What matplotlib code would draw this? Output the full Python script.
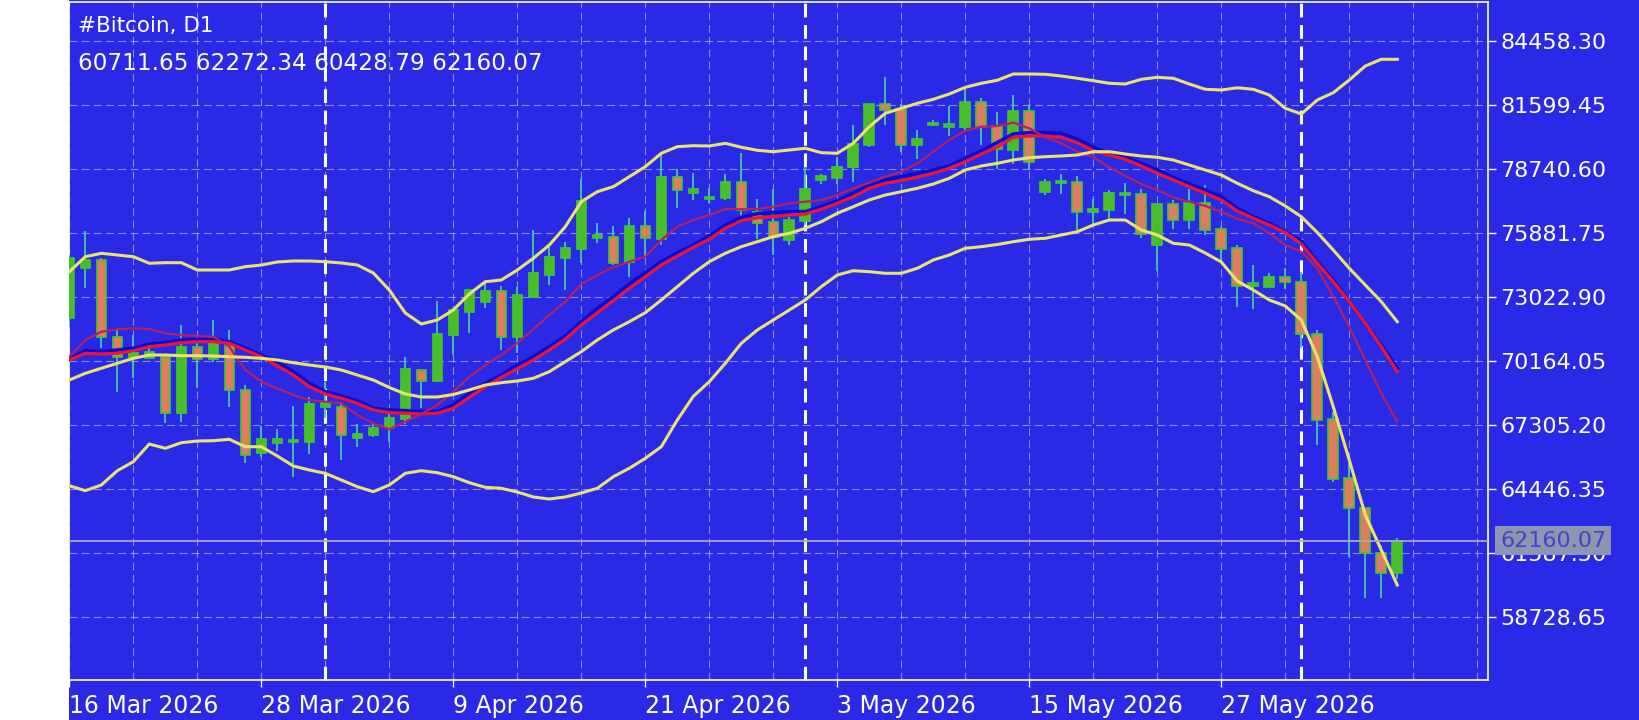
import numpy as np
import pandas as pd
import matplotlib
matplotlib.use("Agg")
import matplotlib.pyplot as plt
from matplotlib.patches import Rectangle
import matplotlib.transforms as mtransforms

# ---------------- data ----------------
symbol_title = "#Bitcoin, D1"
start_date = "2026-03-16"

opens = [72085, 74319, 74691, 71266, 70298, 70298, 70373, 67841, 70819, 70253,
         70968, 68883, 66054, 66531, 66560, 66575, 68139, 68139, 66754, 66873,
         67201, 67573, 69777, 69300, 71340, 72353, 72829, 73321, 71266, 73053,
         74020, 74765, 75167, 75673, 75733, 74616, 76224, 75614, 78413, 77669,
         77430, 77445, 78190, 76835, 76388, 75599, 76418, 78249, 78368, 78845,
         79842, 81644, 81451, 79813, 80706, 80632, 80632, 81748, 80661, 79619,
         81346, 77728, 78130, 78175, 76835, 76939, 77579, 77653, 75346, 77177,
         76492, 77237, 76090, 75241, 73529, 73499, 73946, 73723, 71385, 67573,
         64938, 63598, 61618, 60711.65]
highs = [74913, 76001, 74765, 71564, 71340, 71043, 70492, 71787, 71340, 72010,
         71564, 69107, 67275, 67126, 68169, 68556, 69256, 68362, 67350, 67469,
         67841, 70343, 69807, 72859, 72532, 73380, 73767, 73529, 73499, 76031,
         75256, 75509, 78294, 76358, 76209, 76552, 76879, 79426, 78741, 78562,
         77892, 78532, 79455, 77430, 77877, 76611, 78845, 78547, 79292, 80736,
         81674, 82865, 81674, 80483, 80929, 81555, 82344, 81942, 81302, 82046,
         81599, 78324, 78547, 78428, 77430, 77832, 78130, 77877, 77177, 77385,
         77877, 78026, 76165, 75350, 74467, 74124, 74318, 74169, 71564, 67916,
         65607, 63642, 61960, 62272.34]
lows = [71713, 73425, 70745, 68809, 69405, 70253, 67394, 67469, 68958, 70149,
        68139, 65608, 65905, 66173, 65012, 66010, 67618, 65756, 66323, 66799,
        66575, 67365, 68065, 69300, 70447, 71445, 72561, 70670, 70521, 73053,
        73574, 73350, 74541, 75465, 74467, 73946, 74839, 75360, 77001, 77371,
        77222, 77371, 76596, 75643, 74899, 75346, 76239, 78100, 78100, 78175,
        79738, 80736, 79515, 79217, 80691, 80215, 80483, 79813, 78770, 78964,
        78696, 77579, 77654, 76016, 76313, 76537, 76730, 75688, 74199, 76090,
        76090, 75792, 74601, 72600, 72487, 73470, 73380, 70745, 66427, 64789,
        61439, 59577, 59577, 60428.79]
closes = [74765, 74691, 71266, 70373, 70521, 70596, 67841, 70819, 70253, 70968,
          68883, 65980, 66680, 66680, 66650, 68258, 68288, 66873, 66903, 67201,
          67618, 69807, 69300, 71370, 72457, 73351, 73321, 71266, 73127, 74095,
          74809, 75212, 77341, 75792, 74571, 76224, 75658, 78383, 77817, 77847,
          77520, 78190, 76924, 76358, 75718, 76462, 77847, 78428, 78845, 79887,
          81644, 81376, 79813, 80096, 80825, 80751, 81748, 80632, 79664, 81346,
          79068, 78175, 78219, 76835, 76954, 77698, 77683, 75867, 77177, 76462,
          77237, 76045, 75197, 73529, 73648, 73946, 73693, 71385, 67544, 64893,
          63598, 61618, 60712, 62160.07]

price_ticks = [58728.65, 61587.50, 64446.35, 67305.20, 70164.05,
               73022.90, 75881.75, 78740.60, 81599.45, 84458.30]
last_price = 62160.07

# indicator lines (one value per candle)
bb_upper = [74168, 74838, 74990, 74914, 74838, 74543, 74570, 74570, 74244, 74244,
            74244, 74391, 74467, 74601, 74646, 74646, 74614, 74556, 74467, 74110,
            73350, 72323, 71832, 72010, 72457, 73172, 73721, 73797, 74244, 74766,
            75360, 76178, 77295, 77741, 77965, 78411, 78858, 79457, 79752, 79796,
            79783, 79903, 79725, 79591, 79528, 79604, 79680, 79484, 79457, 79903,
            80645, 81244, 81467, 81690, 81869, 82106, 82405, 82584, 82718, 82999,
            82999, 82986, 82910, 82807, 82700, 82584, 82552, 82762, 82852, 82807,
            82552, 82316, 82284, 82383, 82316, 82061, 81467, 81212, 81838, 82164,
            82731, 83356, 83656, 83656]
bb_mid = [69330, 69629, 69853, 70076, 70299, 70447, 70447, 70416, 70416, 70402,
          70371, 70344, 70299, 70223, 70103, 70000, 69911, 69777, 69553, 69330,
          68995, 68705, 68571, 68571, 68682, 68883, 69107, 69209, 69285, 69406,
          69701, 70148, 70594, 71117, 71564, 71934, 72336, 72904, 73498, 74096,
          74615, 74990, 75285, 75508, 75731, 75883, 76106, 76401, 76777, 77071,
          77371, 77594, 77741, 77893, 78085, 78340, 78711, 78889, 79010, 79157,
          79260, 79305, 79336, 79381, 79528, 79528, 79425, 79336, 79278, 79157,
          78934, 78711, 78487, 78117, 77786, 77518, 77103, 76625, 75919, 75137,
          74320, 73574, 72828, 71934]
bb_lower = [64608, 64385, 64640, 65278, 65680, 66471, 66279, 66529, 66605, 66618,
            66681, 66350, 66350, 65935, 65488, 65310, 65162, 64863, 64564, 64340,
            64640, 65162, 65278, 65189, 65010, 64742, 64537, 64492, 64327, 64104,
            64014, 64104, 64282, 64492, 65010, 65386, 65832, 66350, 67543, 68600,
            69254, 70076, 70969, 71564, 72010, 72457, 72904, 73498, 74020, 74212,
            74168, 74096, 74096, 74320, 74690, 74914, 75213, 75285, 75383, 75508,
            75615, 75660, 75807, 75955, 76254, 76477, 76477, 76031, 75807, 75436,
            75360, 75003, 74601, 73752, 73350, 72904, 72636, 72010, 70371, 68137,
            65756, 63300, 61736, 60173]
ma_blue = [70255, 70639, 70594, 70670, 70746, 70938, 70996, 71117, 71148, 71148,
           71041, 70746, 70447, 70148, 69701, 69183, 68807, 68615, 68405, 68066,
           67990, 67959, 67914, 67914, 68213, 68736, 69182, 69553, 70000, 70371,
           70818, 71296, 71934, 72533, 73051, 73618, 74123, 74615, 75017, 75360,
           75763, 76254, 76598, 76759, 76803, 76848, 76848, 77071, 77339, 77670,
           78041, 78264, 78411, 78563, 78711, 78889, 79233, 79573, 79939, 80319,
           80377, 80377, 80350, 80082, 79725, 79457, 79278, 79010, 78711, 78385,
           78085, 77817, 77518, 77000, 76625, 76330, 75941, 75539, 74615, 73797,
           72828, 71863, 70893, 69853]
ma_red = [70223, 70523, 70491, 70523, 70639, 70818, 70893, 70996, 71041, 71041,
          70969, 70670, 70371, 69955, 69553, 69031, 68705, 68513, 68289, 67990,
          67869, 67843, 67811, 67843, 68066, 68557, 69031, 69451, 69830, 70223,
          70670, 71148, 71787, 72336, 72872, 73426, 73944, 74467, 74869, 75258,
          75615, 76106, 76446, 76576, 76625, 76700, 76745, 76955, 77223, 77518,
          77893, 78117, 78233, 78385, 78563, 78787, 79082, 79425, 79738, 80171,
          80230, 80230, 80171, 79930, 79573, 79381, 79189, 78889, 78563, 78264,
          77965, 77670, 77371, 76879, 76553, 76254, 75919, 75405, 74543, 73721,
          72828, 71863, 70818, 69701]
ma_fast = [70371, 71117, 71487, 71594, 71639, 71608, 71416, 71340, 71296, 71264,
           70818, 69777, 69254, 68959, 68660, 68437, 68361, 68289, 67767, 67396,
           67128, 67467, 67811, 68213, 68807, 69477, 70000, 70447, 70969, 71594,
           72234, 72828, 73618, 74020, 74364, 74615, 74838, 75584, 76178, 76477,
           76700, 76969, 76955, 76969, 77071, 77223, 77295, 77371, 77594, 77893,
           78143, 78411, 78635, 79010, 79528, 80051, 80466, 80645, 80676, 80824,
           80573, 80171, 79903, 79528, 79305, 78831, 78443, 78085, 77817, 77491,
           77295, 77103, 76848, 76522, 76330, 75883, 75360, 75061, 74320, 73051,
           71711, 70223, 68736, 67467]

# ---------------- style ----------------
BG = "#2A2AE6"
BULL_FILL = "#4CBB2A"
BEAR_FILL = "#E37B5E"
EDGE = "#3DCB2C"
WICK = "#45C9A0"
YELLOW = "#E8E46E"
BLUE_MA = "#0B0BD0"
RED_MA = "#EE1435"
FAST_MA = "#B42060"

W, H = 1640, 720
fig = plt.figure(figsize=(W / 100, H / 100), dpi=100, facecolor="white")
fig.patches.append(Rectangle((69 / W, 0), 1 - 69 / W, 1, transform=fig.transFigure,
                             facecolor=BG, edgecolor="none", zorder=-5))
ax = fig.add_axes([69 / W, 1 - 680 / H, (1488 - 69) / W, (680 - 2) / H])
ax.set_zorder(2)
ax.set_facecolor(BG)

n = len(closes)
dates = pd.date_range(start_date, periods=n, freq="D")
x = np.arange(n)

ax.set_xlim(-0.02, 88.67)
ax.set_ylim(55929, 86215)

# grid
for gx in range(0, 92, 4):
    ax.axvline(gx, color="white", alpha=0.45, lw=0.8, ls=(0, (7, 4)), zorder=1)
for gy in price_ticks:
    ax.axhline(gy, color="white", alpha=0.45, lw=0.8, ls=(0, (7, 4)), zorder=1)

# month separators
for xi, d in zip(x, dates):
    if d.day == 1:
        ax.axvline(xi, color="white", lw=2.2, ls=(0, (4.5, 2.5)), zorder=2)

# candles
bw = 0.6
for xi, o, h, l, c in zip(x, opens, highs, lows, closes):
    ax.plot([xi, xi], [l, h], color=WICK, lw=1.3, zorder=3, solid_capstyle="butt")
    lo, hi = min(o, c), max(o, c)
    fill = BULL_FILL if c >= o else BEAR_FILL
    ax.add_patch(Rectangle((xi - bw / 2, lo), bw, max(hi - lo, 20), facecolor=fill,
                           edgecolor=EDGE, lw=1.2, zorder=4))

# indicator lines
ax.plot(x, bb_upper, color=YELLOW, lw=2.2, zorder=6)
ax.plot(x, bb_mid, color=YELLOW, lw=2.2, zorder=6)
ax.plot(x, bb_lower, color=YELLOW, lw=2.2, zorder=6)
ax.plot(x, ma_blue, color=BLUE_MA, lw=2.6, zorder=5)
ax.plot(x, ma_red, color=RED_MA, lw=2.3, zorder=5)
ax.plot(x, ma_fast, color=FAST_MA, lw=1.6, zorder=5)

# last price line
ax.axhline(last_price, color="#A9A9BE", lw=1.3, zorder=7)

# axes styling
for s in ax.spines.values():
    s.set_color("white")
    s.set_linewidth(1.2)
ax.yaxis.tick_right()
ax.set_yticks(price_ticks)
ax.set_yticklabels([f"{v:.2f}" for v in price_ticks])
ax.tick_params(axis="y", colors="white", labelsize=16, length=6, width=1, pad=3)

tick_pos = x[::12]
ax.set_xticks(tick_pos)
ax.set_xticklabels([f"{d.day} {d.strftime('%b %Y')}" for d in dates[::12]])
for lab in ax.get_xticklabels():
    lab.set_horizontalalignment("left")
ax.tick_params(axis="x", colors="white", labelsize=17, length=5, width=1, pad=5)

# last price label box
trans = mtransforms.blended_transform_factory(ax.transAxes, ax.transData)
ax.text(1.0085, last_price, f"{last_price:.2f}", transform=trans, ha="left", va="center",
        fontsize=16, color="#4444C8", clip_on=False, zorder=10,
        bbox=dict(facecolor="#8C96B2", edgecolor="none", boxstyle="square,pad=0.22"))

# header texts
ax.text(0.0063, 0.9646, symbol_title, transform=ax.transAxes, color="white",
        fontsize=15.5, ha="left", va="center", zorder=10)
last = f"{opens[-1]:.2f} {highs[-1]:.2f} {lows[-1]:.2f} {closes[-1]:.2f}"
ax.text(0.0063, 0.910, last, transform=ax.transAxes, color="white",
        fontsize=16.7, ha="left", va="center", zorder=10)

fig.savefig("out.png", dpi=100, facecolor=fig.get_facecolor())
